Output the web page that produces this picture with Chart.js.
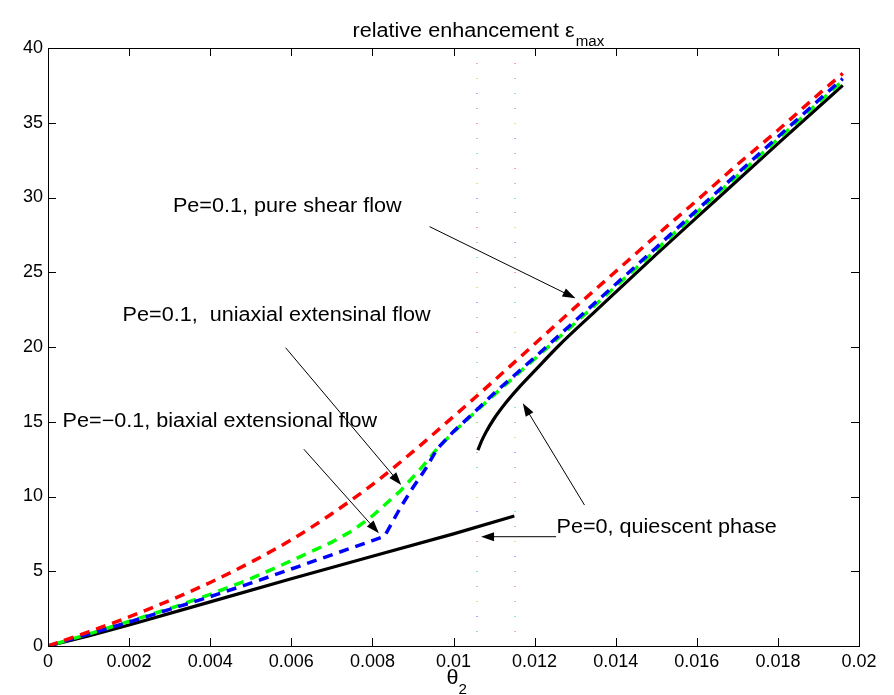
<!DOCTYPE html>
<html>
<head>
<meta charset="utf-8">
<script src="https://cdn.jsdelivr.net/npm/chart.js@4.4.1/dist/chart.umd.min.js"></script>
<style>
  html, body { margin: 0; padding: 0; background: #fff; }
  #wrap { width: 894px; height: 695px; }
</style>
</head>
<body>
<div id="wrap"><canvas id="c" width="894" height="695"></canvas></div>
<script>
// tick labels
const xTickVals = [0, 0.002, 0.004, 0.006, 0.008, 0.01, 0.012, 0.014, 0.016, 0.018, 0.02];
const xTickLabels = ["0", "0.002", "0.004", "0.006", "0.008", "0.01", "0.012", "0.014", "0.016", "0.018", "0.02"];
const yTickVals = [0, 5, 10, 15, 20, 25, 30, 35, 40];
const yTickLabels = ["0", "5", "10", "15", "20", "25", "30", "35", "40"];

// Pe=0.1, pure shear flow (red)
const shearX = [0, 0.001, 0.002, 0.003, 0.004, 0.005, 0.006, 0.007, 0.008, 0.009, 0.010, 0.011, 0.012, 0.013, 0.014, 0.015, 0.016, 0.017, 0.018, 0.019, 0.0196];
const shearY = [0, 0.95, 1.95, 3.05, 4.25, 5.6, 7.1, 8.85, 10.8, 13.0, 15.35, 17.75, 20.2, 22.65, 25.05, 27.45, 29.8, 32.2, 34.5, 36.9, 38.3];

// Pe=0.1, uniaxial extensional flow (green)
const uniX = [0, 0.001, 0.002, 0.003, 0.004, 0.005, 0.006, 0.007, 0.0075, 0.008, 0.0087, 0.0092, 0.0096, 0.010, 0.0105, 0.011, 0.012, 0.013, 0.014, 0.015, 0.016, 0.017, 0.018, 0.019, 0.0196];
const uniY = [0, 0.8, 1.65, 2.5, 3.45, 4.5, 5.7, 6.95, 7.7, 8.7, 10.4, 11.9, 13.2, 14.3, 15.55, 16.8, 19.2, 21.6, 24.05, 26.5, 29.0, 31.45, 33.9, 36.35, 37.8];

// Pe=-0.1, biaxial extensional flow (blue)
const biaX = [0, 0.001, 0.002, 0.003, 0.004, 0.005, 0.006, 0.007, 0.008, 0.0083, 0.0087, 0.009, 0.0093, 0.0096, 0.010, 0.0105, 0.011, 0.012, 0.013, 0.014, 0.015, 0.016, 0.017, 0.018, 0.019, 0.0196];
const biaY = [0, 0.8, 1.6, 2.45, 3.3, 4.2, 5.15, 6.1, 7.05, 7.35, 9.3, 10.6, 11.8, 13.2, 14.35, 15.6, 16.9, 19.3, 21.75, 24.2, 26.65, 29.15, 31.6, 34.05, 36.5, 37.95];

// Pe=0, quiescent phase (black): two branches
const quiLowX = [0, 0.001, 0.002, 0.004, 0.006, 0.008, 0.010, 0.0115];
const quiLowY = [0, 0.68, 1.4, 2.95, 4.5, 6.0, 7.5, 8.7];
const quiUpX = [0.0106, 0.0107, 0.0108, 0.011, 0.0113, 0.0116, 0.012, 0.0126, 0.0135, 0.015, 0.0165, 0.018, 0.0196];
const quiUpY = [13.1, 13.75, 14.3, 15.2, 16.3, 17.25, 18.4, 20.1, 22.4, 26.2, 29.9, 33.6, 37.5];

// dotted marker lines (theta_2 positions) and their dot colours
const markX = [0.01055, 0.0115];
const dotColors = ['#f2a6a6', '#9fd89f', '#aaaaf2', '#dede8e', '#e2a8e2', '#9edede', '#c4c4c4'];

const pts = (xs, ys) => xs.map((x, i) => ({ x: x, y: ys[i] }));

const annotations = [
  { text: "Pe=0.1, pure shear flow", x: 0.00308, y: 29.4, from: [0.00941, 28.05], to: [0.01301, 23.26] },
  { text: "Pe=0.1,  uniaxial extensinal flow", x: 0.00184, y: 22.1, from: [0.00586, 19.95], to: [0.00871, 10.77] },
  { text: "Pe=\u22120.1, biaxial extensional flow", x: 0.00036, y: 15.0, from: [0.00631, 13.16], to: [0.00816, 7.54] },
  { text: "Pe=0, quiescent phase", x: 0.01254, y: 7.9, from: [0.01323, 9.43], to: [0.01171, 16.23] },
  { text: null, from: [0.01253, 7.31], to: [0.01068, 7.31] }
];

const FONT = '"Liberation Sans", Arial, Helvetica, sans-serif';
const STRETCH = 1.08;

function wideText(ctx, str, x, y) {
  ctx.save();
  ctx.translate(x, y);
  ctx.scale(STRETCH, 1);
  ctx.fillText(str, 0, 0);
  ctx.restore();
}

function arrow(ctx, x1, y1, x2, y2) {
  const ang = Math.atan2(y2 - y1, x2 - x1);
  const len = 13, half = 4.5;
  ctx.beginPath();
  ctx.moveTo(x1, y1);
  ctx.lineTo(x2 - Math.cos(ang) * len * 0.8, y2 - Math.sin(ang) * len * 0.8);
  ctx.stroke();
  ctx.beginPath();
  ctx.moveTo(x2, y2);
  ctx.lineTo(x2 - Math.cos(ang) * len - Math.sin(ang) * half, y2 - Math.sin(ang) * len + Math.cos(ang) * half);
  ctx.lineTo(x2 - Math.cos(ang) * len + Math.sin(ang) * half, y2 - Math.sin(ang) * len - Math.cos(ang) * half);
  ctx.closePath();
  ctx.fill();
}

const markDots = {
  id: 'markDots',
  beforeDatasetsDraw(chart) {
    const ctx = chart.ctx;
    const xs = chart.scales.x, ys = chart.scales.y;
    ctx.save();
    markX.forEach((mx, j) => {
      const px = Math.round(xs.getPixelForValue(mx));
      for (let v = 0; v <= 40; v++) {
        ctx.fillStyle = dotColors[(v + j * 3) % dotColors.length];
        ctx.fillRect(px, Math.round(ys.getPixelForValue(v)), 2, 1);
      }
    });
    ctx.restore();
  }
};

const matlabFrame = {
  id: 'matlabFrame',
  afterDraw(chart) {
    const ctx = chart.ctx;
    const a = chart.chartArea;
    const xs = chart.scales.x, ys = chart.scales.y;
    ctx.save();
    ctx.strokeStyle = '#000';
    ctx.fillStyle = '#000';
    ctx.lineWidth = 1;
    // frame
    ctx.strokeRect(Math.round(a.left) + 0.5, Math.round(a.top) + 0.5, Math.round(a.right - a.left), Math.round(a.bottom - a.top));
    // inward ticks
    ctx.beginPath();
    xTickVals.forEach(v => {
      const px = Math.round(xs.getPixelForValue(v)) + 0.5;
      ctx.moveTo(px, a.bottom); ctx.lineTo(px, a.bottom - 8);
      ctx.moveTo(px, a.top); ctx.lineTo(px, a.top + 8);
    });
    yTickVals.forEach(v => {
      const py = Math.round(ys.getPixelForValue(v)) + 0.5;
      ctx.moveTo(a.left, py); ctx.lineTo(a.left + 8, py);
      ctx.moveTo(a.right, py); ctx.lineTo(a.right - 8, py);
    });
    ctx.stroke();

    // annotations
    ctx.font = '20px ' + FONT;
    ctx.textBaseline = 'middle';
    ctx.textAlign = 'left';
    annotations.forEach(an => {
      if (an.text) wideText(ctx, an.text, xs.getPixelForValue(an.x), ys.getPixelForValue(an.y));
      arrow(ctx, xs.getPixelForValue(an.from[0]), ys.getPixelForValue(an.from[1]),
                 xs.getPixelForValue(an.to[0]), ys.getPixelForValue(an.to[1]));
    });

    // title with subscript
    const cx = (a.left + a.right) / 2;
    ctx.textBaseline = 'alphabetic';
    ctx.font = '20px ' + FONT;
    const main = 'relative enhancement \u03b5';
    const wMain = ctx.measureText(main).width * STRETCH;
    const tx = cx - 101;
    wideText(ctx, main, tx, 37);
    ctx.font = '14px ' + FONT;
    wideText(ctx, 'max', tx + wMain + 1, 46);

    // x axis label theta_2
    ctx.font = '20px ' + FONT;
    const wt = ctx.measureText('\u03b8').width * STRETCH;
    wideText(ctx, '\u03b8', cx - wt / 2 - 1, 684);
    ctx.font = '14px ' + FONT;
    wideText(ctx, '2', cx + wt / 2 - 1, 694);
    ctx.restore();
  }
};

const chart = new Chart(document.getElementById('c'), {
  type: 'scatter',
  data: {
    datasets: [
      { label: 'shear', data: pts(shearX, shearY), showLine: true, borderColor: '#ff0000', borderWidth: 3.5, borderDash: [10, 7], pointRadius: 0, cubicInterpolationMode: 'monotone', order: 1 },
      { label: 'biaxial', data: pts(biaX, biaY), showLine: true, borderColor: '#0000ff', borderWidth: 3.5, borderDash: [10, 7], pointRadius: 0, order: 2 },
      { label: 'uniaxial', data: pts(uniX, uniY), showLine: true, borderColor: '#00ff00', borderWidth: 3.5, borderDash: [10, 7], borderDashOffset: 8, pointRadius: 0, order: 3 },
      { label: 'quiescent low', data: pts(quiLowX, quiLowY), showLine: true, borderColor: '#000', borderWidth: 3.2, pointRadius: 0, order: 4 },
      { label: 'quiescent up', data: pts(quiUpX, quiUpY), showLine: true, borderColor: '#000', borderWidth: 3.2, pointRadius: 0, cubicInterpolationMode: 'monotone', order: 4 }
    ]
  },
  options: {
    responsive: false,
    animation: false,
    layout: { padding: { left: 0, right: 35, top: 48, bottom: 0 } },
    plugins: { legend: { display: false }, tooltip: { enabled: false }, title: { display: false } },
    scales: {
      x: {
        type: 'linear', min: 0, max: 0.02,
        afterBuildTicks: s => { s.ticks = xTickVals.map(v => ({ value: v })); },
        afterFit: s => { s.height = 49; },
        grid: { display: false, drawTicks: false },
        border: { display: false },
        ticks: { padding: 5, color: '#000', font: { family: FONT, size: 18 }, maxRotation: 0,
                 callback: (v, i) => xTickLabels[i] }
      },
      y: {
        type: 'linear', min: 0, max: 40,
        afterBuildTicks: s => { s.ticks = yTickVals.map(v => ({ value: v })); },
        afterFit: s => { s.width = 48; },
        grid: { display: false, drawTicks: false },
        border: { display: false },
        ticks: { padding: 5, color: '#000', font: { family: FONT, size: 18 },
                 callback: (v, i) => yTickLabels[i] }
      }
    }
  },
  plugins: [markDots, matlabFrame]
});
</script>
</body>
</html>
